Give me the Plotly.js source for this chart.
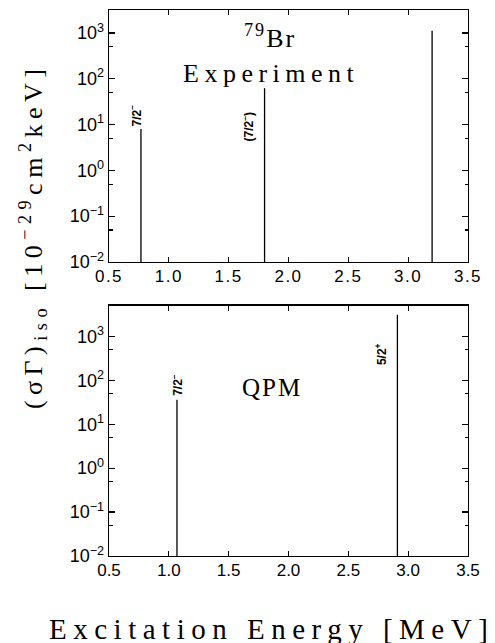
<!DOCTYPE html>
<html><head><meta charset="utf-8">
<script src="https://cdn.plot.ly/plotly-3.0.1.min.js"></script>
<style>
html,body{margin:0;padding:0;background:#fff;}
text[style*="Tinos"]{letter-spacing:6.5px;}
text[style*="Times New Roman"]{letter-spacing:5.5px;}
text[style*="Nimbus Roman"]{letter-spacing:2px;}
.xtick text{letter-spacing:1.5px;}
</style>
</head><body><div id="chart" style="width:495px;height:643px;"></div>
<script>
// Experiment (79Br)
const expEnergy = [0.767, 1.80, 3.20];
const expValue = [8, 62, 1120];
const expLabels = ['7/2<sup>−</sup>', '(7/2<sup>−</sup>)', ''];
// QPM
const qpmEnergy = [1.068, 2.91];
const qpmValue = [36, 3100];
const qpmLabels = ['7/2<sup>−</sup>', '5/2<sup>+</sup>'];
// ticks
const xTickVals = [0.5, 1.0, 1.5, 2.0, 2.5, 3.0, 3.5];
const xTickText = ['0.5', '1.0', '1.5', '2.0', '2.5', '3.0', '3.5'];
const yTickVals = [1e-2, 1e-1, 1, 10, 100, 1000];
const yTickText = ['10<sup>−2</sup>', '10<sup>−1</sup>', '10<sup>0</sup>', '10<sup>1</sup>', '10<sup>2</sup>', '10<sup>3</sup>'];
const yMinorVals = [0.05, 0.5, 5, 50, 500];

// label offsets (px) – styling only
const expLabelShift = [[-5, 13.5], [-17, -38.7], [0, 0]];
const qpmLabelShift = [[0, 15], [-15.7, -39.5]];

const topRange = [-2, 3.5];
const botRange = [-2, 3.7];

function sticks(xs, vs, floor, xa, ya) {
  const x = [], y = [];
  xs.forEach((e, i) => { x.push(e, e, null); y.push(floor, vs[i], null); });
  return {type: 'scatter', mode: 'lines', x: x, y: y, xaxis: xa, yaxis: ya,
    line: {color: '#000', width: 1.3}, hoverinfo: 'skip', showlegend: false};
}

const data = [
  sticks(expEnergy, expValue, Math.pow(10, topRange[0]), 'x', 'y'),
  sticks(qpmEnergy, qpmValue, Math.pow(10, botRange[0]), 'x2', 'y2')
];

const tickFont = {family: 'Liberation Sans, Arial, sans-serif', size: 17, color: '#000'};
const yTickFont = {family: 'Liberation Sans, Arial, sans-serif', size: 18, color: '#000'};
function xAxis(anchor) {
  return {range: [0.5, 3.5], tickmode: 'array', tickvals: xTickVals, ticktext: xTickText,
    ticks: 'inside', ticklen: 5, tickwidth: 1.2, tickcolor: '#000', showline: true, linecolor: '#000',
    linewidth: 1.3, mirror: 'ticks', showgrid: false, zeroline: false, tickfont: tickFont,
    anchor: anchor, domain: [0, 1], ticklabelstandoff: -2};
}
function yAxis(range, domain, anchor) {
  return {type: 'log', range: range, domain: domain, anchor: anchor, tickmode: 'array',
    tickvals: yTickVals, ticktext: yTickText, ticks: 'inside', ticklen: 6, tickwidth: 1.2,
    tickcolor: '#000', showline: true, linecolor: '#000', linewidth: 1.3, mirror: 'ticks',
    showgrid: false, zeroline: false, tickfont: yTickFont,
    minor: {tickmode: 'array', tickvals: yMinorVals, ticks: 'inside', ticklen: 3.5, tickwidth: 1.2, tickcolor: '#000', showgrid: false}};
}

const serifWide = 'Liberation Serif, Tinos, serif';
const serifMid = 'Liberation Serif, Times New Roman, serif';
const serifTight = 'Liberation Serif, Nimbus Roman, serif';
const labelFont = {family: 'Liberation Sans, Arial, sans-serif', size: 12, color: '#000', weight: 'bold'};
const annotations = [];
expLabels.forEach((t, i) => {
  if (!t) return;
  annotations.push({text: t, x: expEnergy[i], y: Math.log10(expValue[i]), xref: 'x', yref: 'y',
    showarrow: false, textangle: -90, font: labelFont, xanchor: 'center', yanchor: 'middle',
    xshift: expLabelShift[i][0], yshift: expLabelShift[i][1]});
});
qpmLabels.forEach((t, i) => {
  annotations.push({text: t, x: qpmEnergy[i], y: Math.log10(qpmValue[i]), xref: 'x2', yref: 'y2',
    showarrow: false, textangle: -90, font: labelFont, xanchor: 'center', yanchor: 'middle',
    xshift: qpmLabelShift[i][0], yshift: qpmLabelShift[i][1]});
});
annotations.push(
  {text: '<sup>79</sup>Br', xref: 'paper', yref: 'paper', x: 0.448, y: 0.952, showarrow: false,
   font: {family: serifTight, size: 26, color: '#000'}, xanchor: 'center', yanchor: 'middle'},
  {text: 'Experiment', xref: 'paper', yref: 'paper', x: 0.45, y: 0.883, showarrow: false,
   font: {family: serifMid, size: 26, color: '#000'}, xanchor: 'center', yanchor: 'middle'},
  {text: 'QPM', xref: 'paper', yref: 'paper', x: 0.455, y: 0.308, showarrow: false,
   font: {family: serifTight, size: 25, color: '#000'}, xanchor: 'center', yanchor: 'middle'},
  {text: '(σΓ)<sub>iso</sub> [10<sup>−29</sup>cm<sup>2</sup>keV]', xref: 'paper', yref: 'paper',
   x: -0.2115, y: 0.586, showarrow: false, textangle: -90,
   font: {family: serifMid, size: 26, color: '#000'}, xanchor: 'center', yanchor: 'middle'},
  {text: 'Excitation Energy [MeV]', xref: 'paper', yref: 'paper',
   x: 0.4537, y: -0.133, showarrow: false,
   font: {family: serifWide, size: 29, color: '#000'}, xanchor: 'center', yanchor: 'middle'}
);

const layout = {
  width: 495, height: 643,
  margin: {l: 109, r: 27, t: 10, b: 87},
  paper_bgcolor: '#fff', plot_bgcolor: '#fff',
  showlegend: false,
  xaxis: xAxis('y'),
  xaxis2: xAxis('y2'),
  yaxis: yAxis(topRange, [0.5385, 1], 'x'),
  yaxis2: yAxis(botRange, [0, 0.4584], 'x2'),
  annotations: annotations
};

Plotly.newPlot('chart', data, layout, {displayModeBar: false, staticPlot: true});
</script>
</body></html>
